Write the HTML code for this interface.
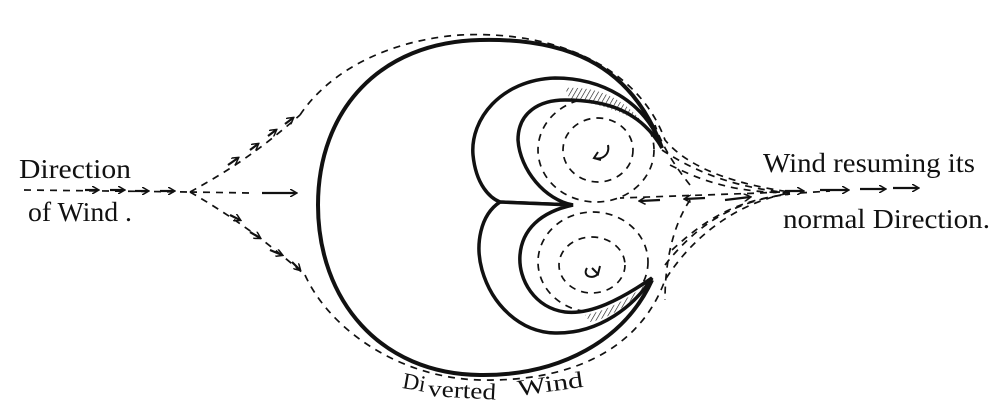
<!DOCTYPE html>
<html><head><style>
html,body{margin:0;padding:0;background:#fff;}
svg{display:block}
text{font-family:"Liberation Serif",serif;fill:#111;}
</style></head><body>
<svg width="1000" height="417" viewBox="0 0 1000 417" xmlns="http://www.w3.org/2000/svg">
<defs>
<marker id="a" markerWidth="8" markerHeight="8" refX="6" refY="4" orient="auto" markerUnits="userSpaceOnUse">
<path d="M0,0 L7,4 L0,8" fill="none" stroke="#111" stroke-width="1.5"/></marker>
<pattern id="h" width="4" height="4" patternUnits="userSpaceOnUse" patternTransform="rotate(30)">
<line x1="0" y1="0" x2="0" y2="4" stroke="#111" stroke-width="1.2"/></pattern>
</defs>
<!-- labels -->
<text x="19" y="178" font-size="27" textLength="112" lengthAdjust="spacingAndGlyphs">Direction</text>
<text x="28" y="221" font-size="27" textLength="104" lengthAdjust="spacingAndGlyphs">of Wind .</text>
<text x="763" y="172" font-size="27" textLength="212" lengthAdjust="spacingAndGlyphs">Wind resuming its</text>
<text x="783" y="228" font-size="27" textLength="207" lengthAdjust="spacingAndGlyphs">normal Direction.</text>
<text x="403" y="388" font-size="23" transform="rotate(10 403 380)">Di</text>
<text x="428" y="396" font-size="23" transform="rotate(3 428 392)" textLength="68" lengthAdjust="spacingAndGlyphs">verted</text>
<text x="518" y="396" font-size="23" transform="rotate(-8 518 392)" textLength="66" lengthAdjust="spacingAndGlyphs">Wind</text>

<g fill="none" stroke="#111" stroke-width="1.7" stroke-dasharray="7 6">
<path d="M24,190 L190,192"/>
<path d="M190,192 L250,193"/>
<path d="M190,192 C230,170 260,150 300,115"/>
<path d="M190,192 C230,215 265,240 305,275"/>
<path d="M300,115 C330,70 390,40 460,35 C560,30 640,70 665,140 C690,170 740,185 790,192"/>
<path d="M305,275 C330,330 400,378 480,380 C570,382 640,350 665,280 C700,225 750,200 790,193"/>
<path d="M662,150 C700,175 740,188 790,193"/>
<path d="M670,165 C710,185 740,192 790,193"/>
<path d="M665,265 C700,220 740,200 790,194"/>
<path d="M672,250 C710,215 740,200 790,194"/>
<path d="M780,192 L760,193 L620,198"/>
<path d="M800,193 L830,191"/>
<ellipse cx="596" cy="150" rx="58" ry="52"/>
<ellipse cx="598" cy="150" rx="35" ry="32"/>
<ellipse cx="593" cy="262" rx="55" ry="50"/>
<ellipse cx="592" cy="265" rx="33" ry="28"/>
<path d="M690,200 C670,230 665,270 665,300"/>
<path d="M690,185 C670,160 660,140 655,125"/>
</g>
<g fill="none" stroke="#111" stroke-width="2.2" marker-end="url(#a)">
<path d="M85,190 L98,190"/><path d="M110,190 L124,190"/><path d="M135,191 L148,191"/><path d="M160,191 L174,191"/>
<path d="M262,193 L296,193"/>
<path d="M228,165 L238,158"/><path d="M250,150 L258,144"/><path d="M268,136 L276,130"/><path d="M285,124 L293,118"/>
<path d="M230,215 L240,220"/><path d="M250,232 L260,238"/><path d="M270,250 L282,255"/><path d="M292,262 L300,270"/>
<path d="M785,191 L803,191"/><path d="M820,190 L848,190"/><path d="M860,189 L885,189"/><path d="M893,188 L918,188"/>
<path d="M705,198 L685,199"/><path d="M660,200 L640,201"/>
<path d="M725,200 L750,197"/>
</g>
<path d="M662,148 C630,60 560,38 480,40 C380,42 318,110 318,205 C318,300 380,374 480,375 C560,376 625,340 652,280" fill="none" stroke="#111" stroke-width="4"/>
<path d="M662,148 C645,100 600,78 555,78 C500,80 470,120 473,155 C476,185 490,198 500,202 L573,205 C545,200 520,170 518,140 C518,112 540,100 565,100 C605,100 640,110 662,148 Z" fill="#fff" stroke="#111" stroke-width="3.5"/>
<path d="M500,202 C480,215 475,245 482,270 C492,305 520,332 555,333 C600,334 635,305 652,278 C620,300 590,315 565,312 C535,308 518,280 520,255 C522,230 540,212 573,205 Z" fill="#fff" stroke="#111" stroke-width="3.5"/>
<path d="M565,88 C600,86 625,100 645,125 C620,110 595,103 570,100 Z" fill="url(#h)" stroke="none"/>
<path d="M585,315 C610,310 630,297 645,285 C630,305 610,318 590,322 Z" fill="url(#h)" stroke="none"/>
<g fill="none" stroke="#111" stroke-width="2">
<path d="M608,145 C610,155 602,160 594,158"/><path d="M598,152 L594,158 L601,160"/>
<path d="M587,268 C582,276 592,280 598,274"/><path d="M592,268 L598,274 L600,266"/>
</g>
</svg>
</body></html>
